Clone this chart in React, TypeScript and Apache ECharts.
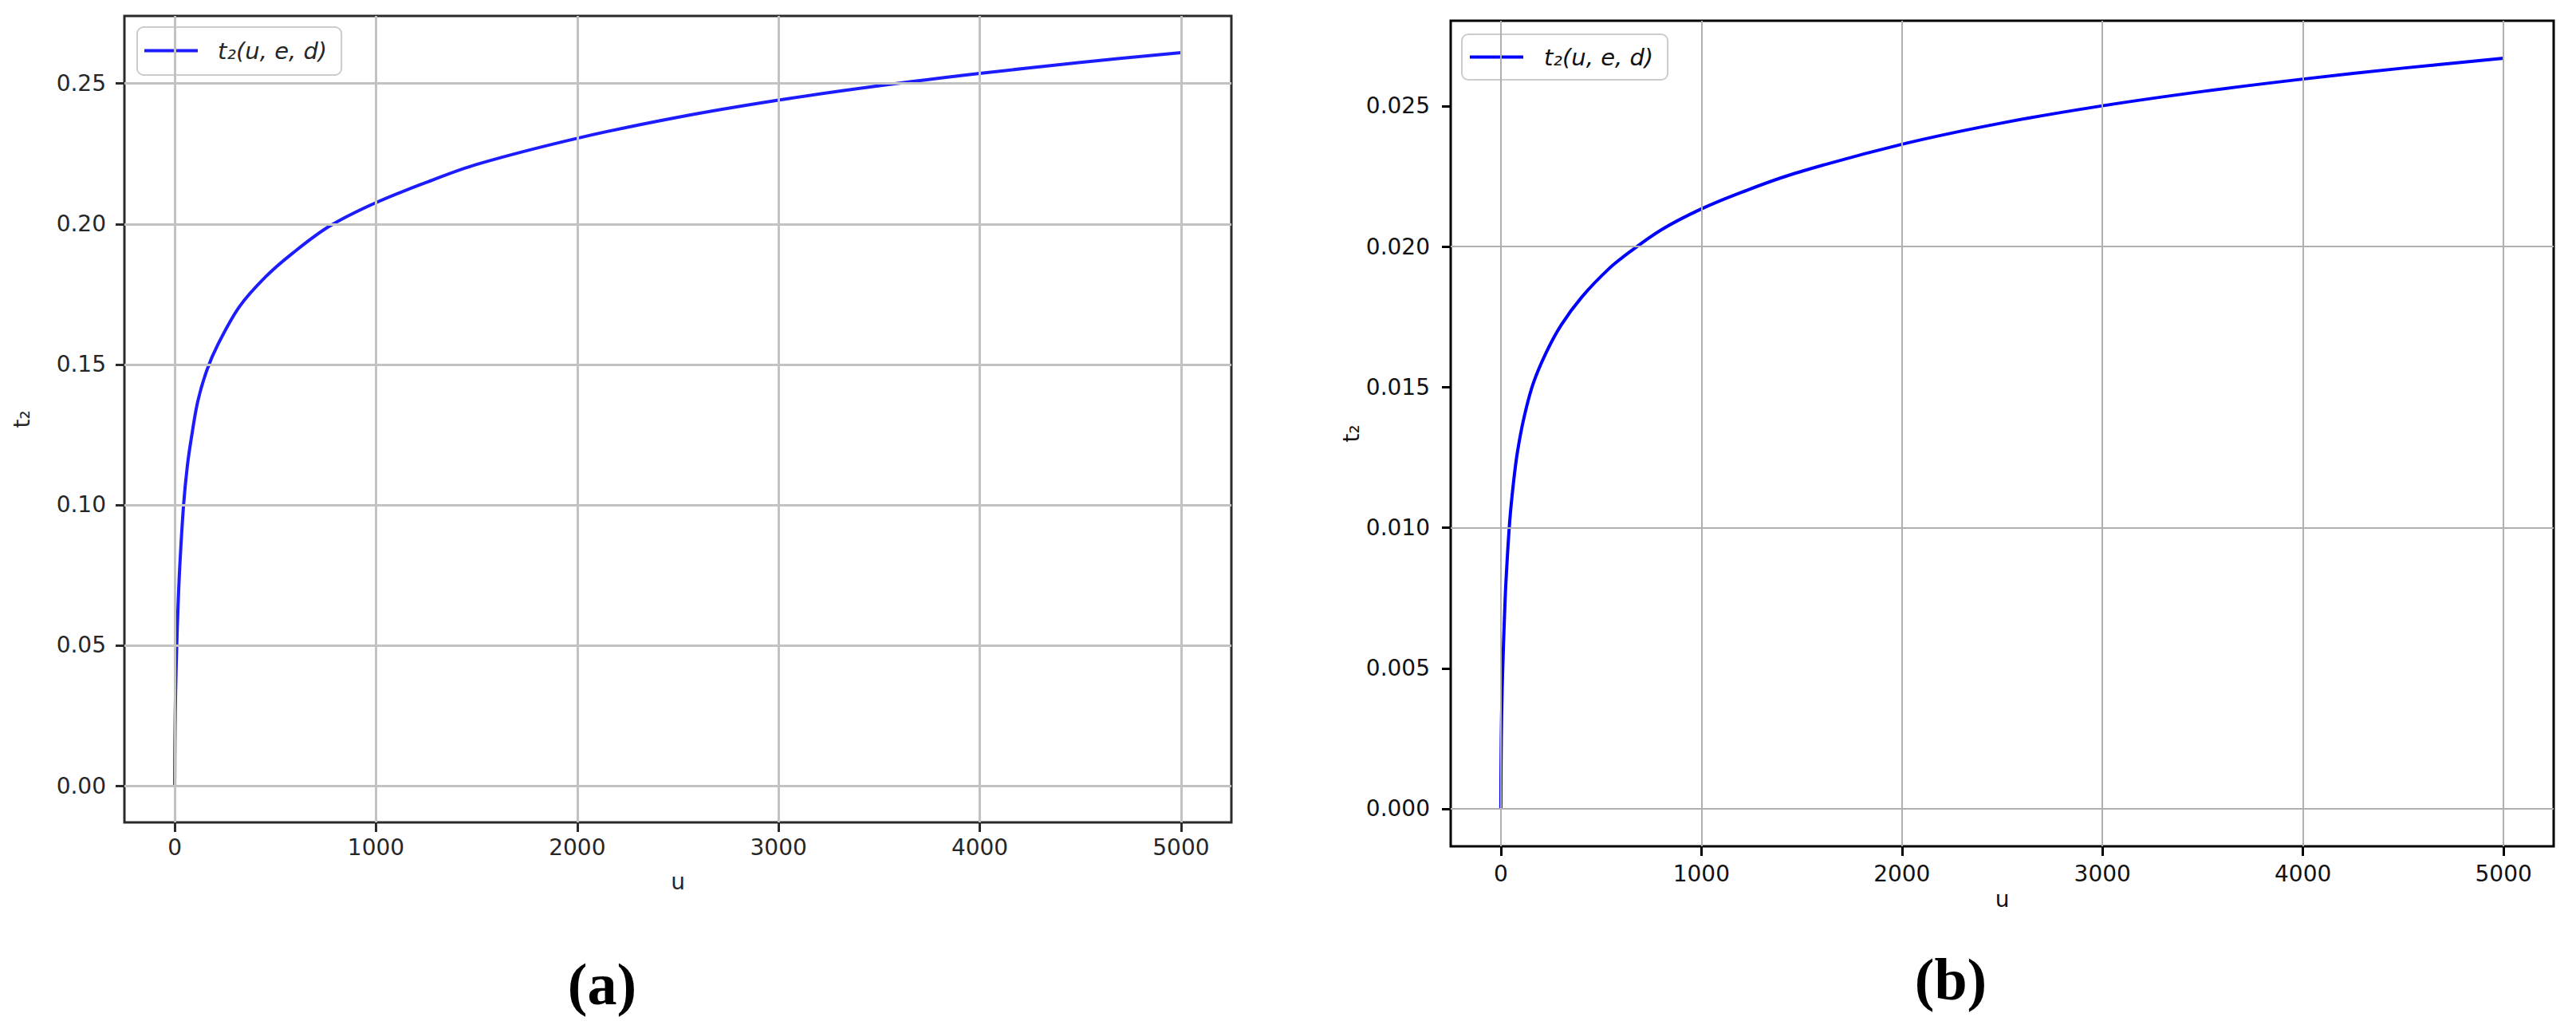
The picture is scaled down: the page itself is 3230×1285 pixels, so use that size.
import React, { useEffect, useRef } from "react";
import * as echarts from "echarts";

// ---- data ----
const U_A = [0, 1, 4, 10, 16, 25, 44, 63, 83, 115, 160, 214, 321, 452, 586, 769, 1000, 1250, 1500, 2000, 2500, 3000, 3500, 4000, 4500, 5000];
const T_A = [0, 0.015, 0.033, 0.05, 0.063, 0.078, 0.1, 0.114, 0.124, 0.137, 0.148, 0.157, 0.1705, 0.1812, 0.1896, 0.1992, 0.2076, 0.2148, 0.2212, 0.2305, 0.238, 0.2441, 0.2492, 0.2536, 0.2575, 0.261];

const U_B = [0, 1, 4, 10, 16, 25, 44, 63, 83, 115, 160, 224, 300, 403, 537, 641, 801, 1000, 1200, 1464, 2000, 2500, 3000, 3500, 4000, 4500, 5000];
const T_B = [0, 0.0015, 0.0034, 0.0051, 0.0064, 0.008, 0.0102, 0.0116, 0.0127, 0.0139, 0.0151, 0.0162, 0.0172, 0.0182, 0.0192, 0.0198, 0.0206, 0.02134, 0.02193, 0.0226, 0.02364, 0.0244, 0.02501, 0.02552, 0.02596, 0.02635, 0.0267];

const X_TICKS = [0, 1000, 2000, 3000, 4000, 5000];
const Y_TICKS_A = [0, 0.05, 0.1, 0.15, 0.2, 0.25];
const Y_TICKS_B = [0, 0.005, 0.01, 0.015, 0.02, 0.025];

const LEGEND_LABEL = "t₂(u, e, d)";
const X_NAME = "u";
const Y_NAME = "t₂";
const CAPTIONS = ["(a)", "(b)"];

const pairs = (u: number[], t: number[]) => u.map((x, i) => [x, t[i]]);

const FONT = "DejaVu Sans";

const PANELS = [
  {
    key: "A",
    grid: { left: 156, top: 20, width: 1388, height: 1011 },
    xMin: -250, xMax: 5250,
    yMin: -0.01305, yMax: 0.27405,
    yTicks: Y_TICKS_A, dec: 2,
    data: pairs(U_A, T_A),
    lineColor: "#1c1cff",
    spine: "#2a2a2a",
    text: "#262626",
    gridColor: "#c2c2c2",
    gridWidth: 3,
    xLabelMargin: 17, yLabelMargin: 23,
    xNameGap: 60, yNameGap: 115,
    legend: { left: 172, top: 34, padding: [15, 18, 16, 9], gap: 20 },
    caption: { x: 755, y: 1234 },
  },
  {
    key: "B",
    grid: { left: 1819, top: 26, width: 1383, height: 1035 },
    xMin: -250, xMax: 5250,
    yMin: -0.001335, yMax: 0.028035,
    yTicks: Y_TICKS_B, dec: 3,
    data: pairs(U_B, T_B),
    lineColor: "#0000ff",
    spine: "#000000",
    text: "#111111",
    gridColor: "#b0b0b0",
    gridWidth: 2,
    xLabelMargin: 20, yLabelMargin: 26,
    xNameGap: 40, yNameGap: 103,
    legend: { left: 1833, top: 43, padding: [14, 18, 14, 10], gap: 21 },
    caption: { x: 2446, y: 1228 },
  },
];

export default function App() {
  const ref = useRef<HTMLDivElement>(null);

  useEffect(() => {
    if (!ref.current) return;
    const chart = echarts.init(ref.current, null, { renderer: "svg" });

    const grids: any[] = [];
    const xAxes: any[] = [];
    const yAxes: any[] = [];
    const series: any[] = [];
    const legends: any[] = [];
    const graphics: any[] = [];

    PANELS.forEach((p, i) => {
      grids.push({
        ...p.grid,
        containLabel: false,
        show: true,
        borderColor: p.spine,
        borderWidth: 3,
        backgroundColor: "#ffffff",
      });
      xAxes.push({
        type: "value",
        gridIndex: i,
        min: p.xMin,
        max: p.xMax,
        position: "bottom",
        name: X_NAME,
        nameLocation: "middle",
        nameGap: p.xNameGap,
        nameTextStyle: { fontFamily: FONT, fontSize: 28, color: p.text },
        axisLine: { show: false, onZero: false },
        axisTick: {
          show: true,
          inside: false,
          length: 12,
          customValues: X_TICKS,
          lineStyle: { color: p.spine, width: 3 },
        },
        axisLabel: {
          show: true,
          customValues: X_TICKS,
          margin: p.xLabelMargin,
          fontFamily: FONT,
          fontSize: 28,
          color: p.text,
          formatter: (v: number) => String(Math.round(v)),
        },
        splitLine: { show: false },
      });
      yAxes.push({
        type: "value",
        gridIndex: i,
        min: p.yMin,
        max: p.yMax,
        position: "left",
        name: Y_NAME,
        nameLocation: "middle",
        nameGap: p.yNameGap,
        nameTextStyle: { fontFamily: FONT, fontSize: 28, color: p.text },
        axisLine: { show: false, onZero: false },
        axisTick: {
          show: true,
          inside: false,
          length: 11,
          customValues: p.yTicks,
          lineStyle: { color: p.spine, width: 3 },
        },
        axisLabel: {
          show: true,
          customValues: p.yTicks,
          margin: p.yLabelMargin,
          fontFamily: FONT,
          fontSize: 28,
          color: p.text,
          formatter: (v: number) => v.toFixed(p.dec),
        },
        splitLine: { show: false },
      });
      // grid lines through the axes' own scales
      series.push({
        type: "line",
        xAxisIndex: i,
        yAxisIndex: i,
        data: [],
        silent: true,
        z: 1,
        markLine: {
          silent: true,
          symbol: ["none", "none"],
          label: { show: false },
          emphasis: { disabled: true },
          animation: false,
          lineStyle: { color: p.gridColor, width: p.gridWidth, type: "solid" },
          data: [
            ...X_TICKS.map((v) => ({ xAxis: v })),
            ...p.yTicks.map((v) => ({ yAxis: v })),
          ],
        },
      });
      series.push({
        type: "line",
        name: p.key,
        xAxisIndex: i,
        yAxisIndex: i,
        data: p.data,
        showSymbol: false,
        symbol: "none",
        smooth: 0.35,
        z: 3,
        lineStyle: { color: p.lineColor, width: 4 },
        itemStyle: { color: p.lineColor },
        emphasis: { disabled: true },
      });
      legends.push({
        data: [{ name: p.key, icon: "rect" }],
        left: p.legend.left,
        top: p.legend.top,
        padding: p.legend.padding,
        itemWidth: 67,
        itemHeight: 4,
        selectedMode: false,
        backgroundColor: "rgba(255,255,255,0.8)",
        borderColor: "#cccccc",
        borderWidth: 2,
        borderRadius: 8,
        itemStyle: { color: p.lineColor },
        formatter: () => `{g| }{t|${LEGEND_LABEL}}`,
        textStyle: {
          rich: {
            g: { width: p.legend.gap, fontSize: 28, lineHeight: 34 },
            t: {
              fontFamily: FONT,
              fontStyle: "italic",
              fontSize: 29,
              lineHeight: 34,
              color: p.text,
            },
          },
        },
      });
      graphics.push({
        type: "text",
        x: p.caption.x,
        y: p.caption.y,
        style: {
          text: CAPTIONS[i],
          font: "bold 74px 'Liberation Serif'",
          fill: "#000000",
          textAlign: "center",
          textVerticalAlign: "middle",
        },
      });
    });

    chart.setOption({
      animation: false,
      backgroundColor: "#ffffff",
      grid: grids,
      xAxis: xAxes,
      yAxis: yAxes,
      series,
      legend: legends,
      graphic: graphics,
    });

    return () => chart.dispose();
  }, []);

  return (
    <div
      ref={ref}
      style={{ position: "absolute", left: 0, top: 0, width: 3230, height: 1285 }}
    />
  );
}
